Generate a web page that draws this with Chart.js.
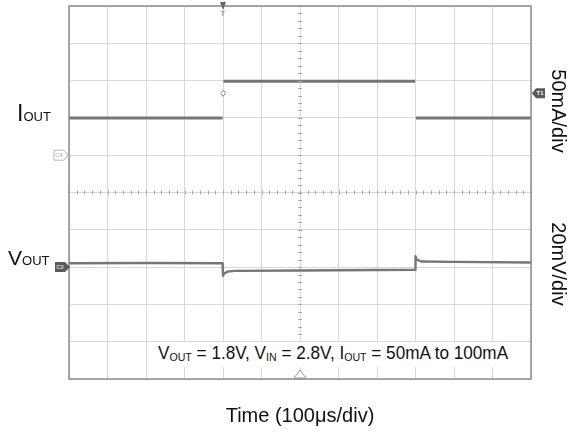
<!DOCTYPE html>
<html>
<head>
<meta charset="utf-8">
<script src="https://cdn.jsdelivr.net/npm/chart.js@4"></script>
<style>
  body { margin: 0; background: #fff; }
  #wrap { position: relative; width: 568px; height: 437px; font-family: "Liberation Sans", Arial, sans-serif; color: #111; }
  #c { position: absolute; left: 0; top: 0; }
  .lbl { position: absolute; white-space: nowrap; }
  .sub { font-size: 0.62em; vertical-align: -2px; }
  .rot { position: absolute; white-space: nowrap; font-size: 20px; transform: translate(-50%, -50%) rotate(90deg); }
  #note { position: absolute; left: 158px; top: 342px; width: 354px; height: 25px; background: #fff;
          font-size: 19px; white-space: nowrap; }
  #note span.t { display: inline-block; transform-origin: left top; }
</style>
</head>
<body>
<div id="wrap">
  <canvas id="c" width="568" height="437"></canvas>
  <div class="lbl" style="left:17px; top:100px; font-size:23px;">I<span style="font-size:13px;">OUT</span></div>
  <div class="lbl" style="left:8px; top:246px; font-size:21px;">V<span style="font-size:13px;">OUT</span></div>
  <div class="rot" style="left:558px; top:111px;">50mA/div</div>
  <div class="rot" style="left:558px; top:264px;">20mV/div</div>
  <div id="note"><span class="t" id="noteText">V<span class="sub">OUT</span> = 1.8V, V<span class="sub">IN</span> = 2.8V, I<span class="sub">OUT</span> = 50mA to 100mA</span></div>
  <div class="lbl" style="left:300px; top:404px; font-size:20px; transform:translateX(-50%);">Time (100μs/div)</div>
</div>
<script>
// Scope capture: load step on the LDO output
// x in µs (100µs/div, 12 div), IOUT in mA (50mA/div), VOUT in mV around 1.8V (20mV/div)

const ioutTime  = [0, 399, 400, 401, 899, 900, 901, 1200];
const ioutValue = [50, 50, null, 99, 99, null, 50, 50];

const voutTime  = [0, 200, 399, 400, 403, 412, 430, 600, 899, 900, 903, 915, 1000, 1200];
const voutValue = [2.1, 2.2, 2.1, -4.6, -3.4, -2.4, -2.0, -1.8, -1.4, 5.8, 4.0, 3.0, 2.8, 2.5];

// markers on the scope screen
const triggerTime = 400;   // T marker / diamond
const triggerLevel = 83;   // mA, T1 marker
const ioutGround = 0;      // C4 marker
const voutGround = 0;      // C2 marker
const centerTime = 600;    // bottom triangle

const traceColor = '#767676';

// Frame, center-line minor ticks and the scope markers
const scopePlugin = {
  id: 'scope',
  afterDraw(chart) {
    const { ctx, chartArea: a, scales } = chart;
    const x = scales.x, yI = scales.yI, yV = scales.yV;
    ctx.save();

    // minor ticks on the center lines
    ctx.strokeStyle = '#a8a8a8';
    ctx.lineWidth = 1;
    const cx = x.getPixelForValue(centerTime);
    const cy = (a.top + a.bottom) / 2;
    for (let t = 0; t <= 1200; t += 20) {
      const px = Math.round(x.getPixelForValue(t)) + 0.5;
      ctx.beginPath(); ctx.moveTo(px, cy - 2); ctx.lineTo(px, cy + 2); ctx.stroke();
    }
    for (let v = -300; v <= 200; v += 10) {
      const py = Math.round(yI.getPixelForValue(v)) + 0.5;
      ctx.beginPath(); ctx.moveTo(cx - 2, py); ctx.lineTo(cx + 2, py); ctx.stroke();
    }

    // frame
    ctx.strokeStyle = '#8c8c8c';
    ctx.lineWidth = 1.5;
    ctx.strokeRect(a.left, a.top, a.right - a.left, a.bottom - a.top);

    // trigger T at the top
    const tx = x.getPixelForValue(triggerTime);
    ctx.fillStyle = '#666';
    ctx.beginPath(); ctx.moveTo(tx - 3, a.top - 4); ctx.lineTo(tx + 3, a.top - 4); ctx.lineTo(tx, a.top + 4); ctx.closePath(); ctx.fill();
    ctx.font = '7px "Liberation Sans", Arial';
    ctx.textAlign = 'center'; ctx.textBaseline = 'top';
    ctx.fillText('T', tx, a.top + 5);

    // trigger diamond
    const ty = yI.getPixelForValue(triggerLevel);
    ctx.strokeStyle = '#888'; ctx.fillStyle = '#fff'; ctx.lineWidth = 1;
    ctx.beginPath(); ctx.moveTo(tx, ty - 3); ctx.lineTo(tx + 2.5, ty); ctx.lineTo(tx, ty + 3); ctx.lineTo(tx - 2.5, ty); ctx.closePath();
    ctx.fill(); ctx.stroke();

    // T1 level marker at the right
    ctx.fillStyle = '#5a5a5a';
    ctx.beginPath();
    ctx.moveTo(a.right + 1, ty); ctx.lineTo(a.right + 5, ty - 5); ctx.lineTo(a.right + 14, ty - 5);
    ctx.lineTo(a.right + 14, ty + 5); ctx.lineTo(a.right + 5, ty + 5); ctx.closePath(); ctx.fill();
    ctx.fillStyle = '#fff'; ctx.font = 'bold 6px "Liberation Sans", Arial'; ctx.textBaseline = 'middle';
    ctx.fillText('T1', a.right + 9, ty + 0.5);

    // C4 ground marker (outlined)
    const g4 = yI.getPixelForValue(ioutGround);
    ctx.fillStyle = '#fff'; ctx.strokeStyle = '#b8b8b8';
    ctx.beginPath();
    ctx.moveTo(a.left - 1, g4); ctx.lineTo(a.left - 5, g4 - 5); ctx.lineTo(a.left - 15, g4 - 5);
    ctx.lineTo(a.left - 15, g4 + 5); ctx.lineTo(a.left - 5, g4 + 5); ctx.closePath(); ctx.fill(); ctx.stroke();
    ctx.fillStyle = '#aaa'; ctx.font = '6px "Liberation Sans", Arial';
    ctx.fillText('C4', a.left - 10, g4 + 0.5);

    // C2 ground marker (filled)
    const g2 = yV.getPixelForValue(voutGround);
    ctx.fillStyle = '#5a5a5a';
    ctx.beginPath();
    ctx.moveTo(a.left + 1, g2); ctx.lineTo(a.left - 4, g2 - 5); ctx.lineTo(a.left - 14, g2 - 5);
    ctx.lineTo(a.left - 14, g2 + 5); ctx.lineTo(a.left - 4, g2 + 5); ctx.closePath(); ctx.fill();
    ctx.fillStyle = '#ddd'; ctx.font = 'bold 6px "Liberation Sans", Arial';
    ctx.fillText('C2', a.left - 9, g2 + 0.5);

    // center time triangle at the bottom
    ctx.strokeStyle = '#999'; ctx.fillStyle = '#fff';
    ctx.beginPath(); ctx.moveTo(cx, a.bottom - 9); ctx.lineTo(cx + 6, a.bottom - 1); ctx.lineTo(cx - 6, a.bottom - 1); ctx.closePath();
    ctx.fill(); ctx.stroke();

    ctx.restore();
  }
};

const toPoints = (xs, ys) => xs.map((t, i) => ({ x: t, y: ys[i] }));

new Chart(document.getElementById('c').getContext('2d'), {
  type: 'line',
  data: {
    datasets: [
      {
        label: 'IOUT',
        data: toPoints(ioutTime, ioutValue),
        yAxisID: 'yI',
        borderColor: traceColor,
        borderWidth: 3,
        borderJoinStyle: 'round',
        pointRadius: 0,
        tension: 0,
        spanGaps: false
      },
      {
        label: 'VOUT',
        data: toPoints(voutTime, voutValue),
        yAxisID: 'yV',
        borderColor: traceColor,
        borderWidth: 2.4,
        borderJoinStyle: 'round',
        pointRadius: 0,
        tension: 0
      }
    ]
  },
  options: {
    responsive: false,
    animation: false,
    layout: { padding: { left: 69, right: 37, top: 6, bottom: 58 } },
    plugins: { legend: { display: false }, tooltip: { enabled: false } },
    scales: {
      x: {
        type: 'linear', min: 0, max: 1200,
        ticks: { display: false, stepSize: 100 },
        grid: { color: '#d8d8d8', lineWidth: 1, drawTicks: false },
        border: { display: false }
      },
      yI: {
        type: 'linear', position: 'left', min: -300, max: 200,
        ticks: { display: false, stepSize: 50 },
        grid: { color: '#d8d8d8', lineWidth: 1, drawTicks: false },
        border: { display: false }
      },
      yV: {
        type: 'linear', position: 'left', min: -60, max: 140,
        display: false
      }
    }
  },
  plugins: [scopePlugin]
});

// squeeze the condition note into its box, like the narrow face in the original
const nt = document.getElementById('noteText');
nt.style.transform = 'scaleX(' + Math.min(1, 350 / nt.offsetWidth) + ')';
</script>
</body>
</html>
